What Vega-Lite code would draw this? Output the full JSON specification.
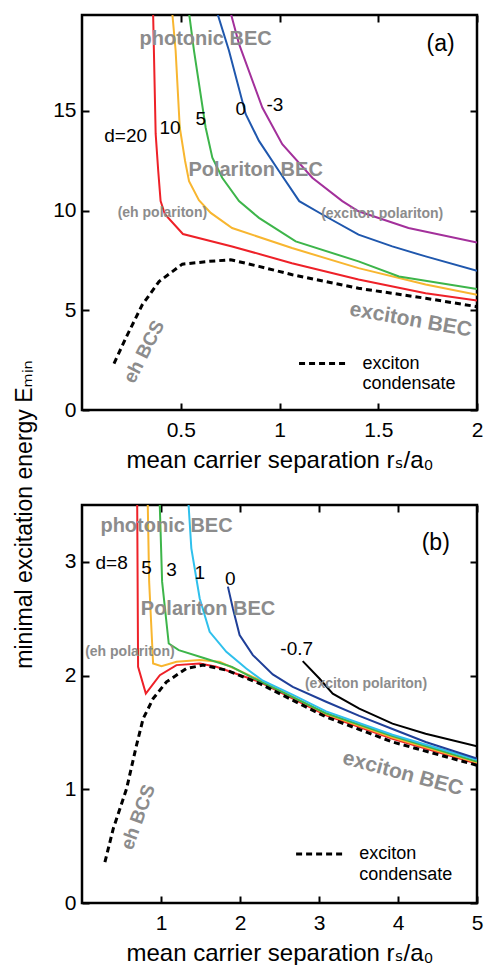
{
"$schema": "https://vega.github.io/schema/vega-lite/v6.json",
"padding": {"left": 11, "top": 12, "right": 0, "bottom": 0},
"background": "white",
"bounds": "flush",
"spacing": 95,
"resolve": {"scale": {"color": "independent"}},
"config": {
 "font": "Liberation Sans, DejaVu Sans, sans-serif",
 "view": {"stroke": "black", "strokeWidth": 2.5},
 "axis": {"domain": false, "grid": false, "ticks": true, "tickSize": -7, "tickWidth": 2, "tickColor": "black", "format": "~g",
  "labelFont": "Liberation Sans, DejaVu Sans, sans-serif", "labelFontSize": 21, "labelColor": "black", "labelPadding": 16, "labelFlush": false,
  "titleFont": "Liberation Sans, DejaVu Sans, sans-serif", "titleFontSize": 24, "titleFontWeight": "normal", "titleColor": "black", "titlePadding": 8}
},
"datasets": {
 "lines": [
  {"p":"a","s":"a20","i":0,"x":0.36,"y":19.9},{"p":"a","s":"a20","i":1,"x":0.373,"y":13.84},{"p":"a","s":"a20","i":2,"x":0.386,"y":11.98},{"p":"a","s":"a20","i":3,"x":0.398,"y":10.47},{"p":"a","s":"a20","i":4,"x":0.42,"y":9.81},{"p":"a","s":"a20","i":5,"x":0.511,"y":8.82},{"p":"a","s":"a20","i":6,"x":0.76,"y":8.2},{"p":"a","s":"a20","i":7,"x":1.063,"y":7.36},{"p":"a","s":"a20","i":8,"x":1.4,"y":6.54},{"p":"a","s":"a20","i":9,"x":1.74,"y":5.85},{"p":"a","s":"a20","i":10,"x":2.0,"y":5.49},
  {"p":"a","s":"a10","i":0,"x":0.457,"y":19.9},{"p":"a","s":"a10","i":1,"x":0.474,"y":18.02},{"p":"a","s":"a10","i":2,"x":0.495,"y":14.16},{"p":"a","s":"a10","i":3,"x":0.522,"y":12.48},{"p":"a","s":"a10","i":4,"x":0.542,"y":11.47},{"p":"a","s":"a10","i":5,"x":0.592,"y":10.52},{"p":"a","s":"a10","i":6,"x":0.652,"y":9.88},{"p":"a","s":"a10","i":7,"x":0.76,"y":9.12},{"p":"a","s":"a10","i":8,"x":1.063,"y":8.12},{"p":"a","s":"a10","i":9,"x":1.4,"y":7.11},{"p":"a","s":"a10","i":10,"x":1.74,"y":6.29},{"p":"a","s":"a10","i":11,"x":2.0,"y":5.77},
  {"p":"a","s":"a5","i":0,"x":0.542,"y":19.9},{"p":"a","s":"a5","i":1,"x":0.567,"y":18.02},{"p":"a","s":"a5","i":2,"x":0.626,"y":14.16},{"p":"a","s":"a5","i":3,"x":0.66,"y":12.65},{"p":"a","s":"a5","i":4,"x":0.71,"y":11.64},{"p":"a","s":"a5","i":5,"x":0.795,"y":10.47},{"p":"a","s":"a5","i":6,"x":0.896,"y":9.63},{"p":"a","s":"a5","i":7,"x":1.082,"y":8.45},{"p":"a","s":"a5","i":8,"x":1.4,"y":7.45},{"p":"a","s":"a5","i":9,"x":1.605,"y":6.69},{"p":"a","s":"a5","i":10,"x":2.0,"y":6.07},
  {"p":"a","s":"a0","i":0,"x":0.685,"y":19.9},{"p":"a","s":"a0","i":1,"x":0.744,"y":18.02},{"p":"a","s":"a0","i":2,"x":0.829,"y":14.83},{"p":"a","s":"a0","i":3,"x":0.896,"y":13.49},{"p":"a","s":"a0","i":4,"x":0.997,"y":11.98},{"p":"a","s":"a0","i":5,"x":1.1,"y":10.47},{"p":"a","s":"a0","i":6,"x":1.217,"y":9.8},{"p":"a","s":"a0","i":7,"x":1.4,"y":8.79},{"p":"a","s":"a0","i":8,"x":1.571,"y":8.2},{"p":"a","s":"a0","i":9,"x":1.74,"y":7.7},{"p":"a","s":"a0","i":10,"x":2.0,"y":6.98},
  {"p":"a","s":"am3","i":0,"x":0.753,"y":19.9},{"p":"a","s":"am3","i":1,"x":0.795,"y":18.35},{"p":"a","s":"am3","i":2,"x":0.913,"y":15.16},{"p":"a","s":"am3","i":3,"x":1.014,"y":13.32},{"p":"a","s":"am3","i":4,"x":1.166,"y":11.64},{"p":"a","s":"am3","i":5,"x":1.318,"y":10.47},{"p":"a","s":"am3","i":6,"x":1.4,"y":9.96},{"p":"a","s":"am3","i":7,"x":1.653,"y":9.12},{"p":"a","s":"am3","i":8,"x":2.0,"y":8.4},
  {"p":"b","s":"b8","i":0,"x":0.698,"y":3.6},{"p":"b","s":"b8","i":1,"x":0.71,"y":2.077},{"p":"b","s":"b8","i":2,"x":0.808,"y":1.841},{"p":"b","s":"b8","i":3,"x":0.985,"y":2.003},{"p":"b","s":"b8","i":4,"x":1.196,"y":2.092},{"p":"b","s":"b8","i":5,"x":1.49,"y":2.106},{"p":"b","s":"b8","i":6,"x":1.7,"y":2.077},{"p":"b","s":"b8","i":7,"x":2.247,"y":1.945},{"p":"b","s":"b8","i":8,"x":3.09,"y":1.651},{"p":"b","s":"b8","i":9,"x":3.93,"y":1.445},{"p":"b","s":"b8","i":10,"x":5.0,"y":1.225},
  {"p":"b","s":"b5","i":0,"x":0.83,"y":3.6},{"p":"b","s":"b5","i":1,"x":0.85,"y":2.826},{"p":"b","s":"b5","i":2,"x":0.9,"y":2.106},{"p":"b","s":"b5","i":3,"x":1.006,"y":2.083},{"p":"b","s":"b5","i":4,"x":1.196,"y":2.121},{"p":"b","s":"b5","i":5,"x":1.49,"y":2.136},{"p":"b","s":"b5","i":6,"x":1.742,"y":2.121},{"p":"b","s":"b5","i":7,"x":2.247,"y":1.962},{"p":"b","s":"b5","i":8,"x":3.09,"y":1.662},{"p":"b","s":"b5","i":9,"x":3.93,"y":1.455},{"p":"b","s":"b5","i":10,"x":5.0,"y":1.235},
  {"p":"b","s":"b3","i":0,"x":0.98,"y":3.6},{"p":"b","s":"b3","i":1,"x":1.014,"y":2.826},{"p":"b","s":"b3","i":2,"x":1.098,"y":2.282},{"p":"b","s":"b3","i":3,"x":1.225,"y":2.224},{"p":"b","s":"b3","i":4,"x":1.562,"y":2.15},{"p":"b","s":"b3","i":5,"x":1.898,"y":2.077},{"p":"b","s":"b3","i":6,"x":2.15,"y":1.985},{"p":"b","s":"b3","i":7,"x":3.08,"y":1.671},{"p":"b","s":"b3","i":8,"x":3.93,"y":1.469},{"p":"b","s":"b3","i":9,"x":5.0,"y":1.244},
  {"p":"b","s":"b1","i":0,"x":1.34,"y":3.6},{"p":"b","s":"b1","i":1,"x":1.384,"y":3.119},{"p":"b","s":"b1","i":2,"x":1.49,"y":2.678},{"p":"b","s":"b1","i":3,"x":1.616,"y":2.385},{"p":"b","s":"b1","i":4,"x":1.827,"y":2.209},{"p":"b","s":"b1","i":5,"x":2.079,"y":2.062},{"p":"b","s":"b1","i":6,"x":2.29,"y":1.955},{"p":"b","s":"b1","i":7,"x":2.67,"y":1.83},{"p":"b","s":"b1","i":8,"x":3.09,"y":1.685},{"p":"b","s":"b1","i":9,"x":3.93,"y":1.48},{"p":"b","s":"b1","i":10,"x":5.0,"y":1.26},
  {"p":"b","s":"b0","i":0,"x":1.847,"y":2.782},{"p":"b","s":"b0","i":1,"x":1.91,"y":2.59},{"p":"b","s":"b0","i":2,"x":1.995,"y":2.356},{"p":"b","s":"b0","i":3,"x":2.163,"y":2.18},{"p":"b","s":"b0","i":4,"x":2.415,"y":2.01},{"p":"b","s":"b0","i":5,"x":2.668,"y":1.9},{"p":"b","s":"b0","i":6,"x":3.09,"y":1.77},{"p":"b","s":"b0","i":7,"x":3.51,"y":1.645},{"p":"b","s":"b0","i":8,"x":3.93,"y":1.53},{"p":"b","s":"b0","i":9,"x":4.35,"y":1.416},{"p":"b","s":"b0","i":10,"x":5.0,"y":1.27},
  {"p":"b","s":"bm07","i":0,"x":2.794,"y":2.127},{"p":"b","s":"bm07","i":1,"x":3.005,"y":1.974},{"p":"b","s":"bm07","i":2,"x":3.174,"y":1.841},{"p":"b","s":"bm07","i":3,"x":3.51,"y":1.709},{"p":"b","s":"bm07","i":4,"x":3.93,"y":1.577},{"p":"b","s":"bm07","i":5,"x":4.35,"y":1.489},{"p":"b","s":"bm07","i":6,"x":5.0,"y":1.378}
 ],
 "dashed": [
  {"p":"a","i":0,"x":0.162,"y":2.33},{"p":"a","i":1,"x":0.221,"y":3.59},{"p":"a","i":2,"x":0.305,"y":5.27},{"p":"a","i":3,"x":0.39,"y":6.44},{"p":"a","i":4,"x":0.508,"y":7.31},{"p":"a","i":5,"x":0.643,"y":7.45},{"p":"a","i":6,"x":0.753,"y":7.53},{"p":"a","i":7,"x":0.896,"y":7.2},{"p":"a","i":8,"x":1.065,"y":6.78},{"p":"a","i":9,"x":1.234,"y":6.44},{"p":"a","i":10,"x":1.4,"y":6.1},{"p":"a","i":11,"x":1.571,"y":5.85},{"p":"a","i":12,"x":1.74,"y":5.6},{"p":"a","i":13,"x":2.0,"y":5.18},
  {"p":"b","i":0,"x":0.29,"y":0.359},{"p":"b","i":1,"x":0.395,"y":0.652},{"p":"b","i":2,"x":0.564,"y":1.004},{"p":"b","i":3,"x":0.69,"y":1.387},{"p":"b","i":4,"x":0.774,"y":1.621},{"p":"b","i":5,"x":0.9,"y":1.797},{"p":"b","i":6,"x":1.07,"y":1.945},{"p":"b","i":7,"x":1.322,"y":2.062},{"p":"b","i":8,"x":1.532,"y":2.092},{"p":"b","i":9,"x":1.827,"y":2.048},{"p":"b","i":10,"x":2.247,"y":1.93},{"p":"b","i":11,"x":3.09,"y":1.636},{"p":"b","i":12,"x":3.93,"y":1.416},{"p":"b","i":13,"x":5.0,"y":1.211}
 ],
 "legend": [
  {"p":"a","x":1.099,"x2":1.335,"y":2.33},
  {"p":"b","x":2.71,"x2":3.3,"y":0.432}
 ],
 "texts": [
  {"p":"a","k":"reg","t":"photonic BEC","x":0.626,"y":18.6},
  {"p":"a","k":"reg","t":"Polariton BEC","x":0.879,"y":12.01},
  {"p":"a","k":"sm","t":"(eh polariton)","x":0.407,"y":9.88},
  {"p":"a","k":"sm","t":"(exciton polariton)","x":1.52,"y":9.8},
  {"p":"a","k":"bec","t":"exciton BEC","x":1.664,"y":4.51},
  {"p":"a","k":"bcs","t":"eh BCS","x":0.314,"y":2.92},
  {"p":"a","k":"num","t":"d=20","x":0.221,"y":13.74},
  {"p":"a","k":"num","t":"10","x":0.446,"y":14.16},
  {"p":"a","k":"num","t":"5","x":0.601,"y":14.58},
  {"p":"a","k":"num","t":"0","x":0.804,"y":15.08},
  {"p":"a","k":"num","t":"-3","x":0.977,"y":15.3},
  {"p":"a","k":"pan","t":"(a)","x":1.816,"y":18.35},
  {"p":"a","k":"leg","t":"exciton","x":1.42,"y":2.33},
  {"p":"a","k":"leg","t":"condensate","x":1.42,"y":1.32},
  {"p":"b","k":"reg","t":"photonic BEC","x":1.07,"y":3.313},
  {"p":"b","k":"reg","t":"Polariton BEC","x":1.595,"y":2.582},
  {"p":"b","k":"sm","t":"(eh polariton)","x":0.606,"y":2.203},
  {"p":"b","k":"sm","t":"(exciton polariton)","x":3.595,"y":1.93},
  {"p":"b","k":"bec","t":"exciton BEC","x":4.06,"y":1.137},
  {"p":"b","k":"bcs","t":"eh BCS","x":0.71,"y":0.755},
  {"p":"b","k":"num","t":"d=8","x":0.375,"y":2.987},
  {"p":"b","k":"num","t":"5","x":0.817,"y":2.943},
  {"p":"b","k":"num","t":"3","x":1.133,"y":2.929},
  {"p":"b","k":"num","t":"1","x":1.49,"y":2.899},
  {"p":"b","k":"num","t":"0","x":1.877,"y":2.849},
  {"p":"b","k":"num","t":"-0.7","x":2.718,"y":2.238},
  {"p":"b","k":"pan","t":"(b)","x":4.478,"y":3.163},
  {"p":"b","k":"leg","t":"exciton","x":3.51,"y":0.432},
  {"p":"b","k":"leg","t":"condensate","x":3.51,"y":0.25}
 ]
},
"vconcat": [
 {
  "width": 395, "height": 395,
  "resolve": {"axis": {"x": "independent", "y": "independent"}},
  "layer": [
   {
    "data": {"name": "lines"},
    "transform": [{"filter": "datum.p == 'a'"}],
    "mark": {"type": "line", "strokeWidth": 2, "clip": true},
    "encoding": {
     "x": {"field": "x", "type": "quantitative", "scale": {"domain": [0, 2], "nice": false, "zero": false},
      "axis": {"orient": "bottom", "values": [0.5, 1, 1.5, 2], "title": "mean carrier separation rₛ/a₀"}},
     "y": {"field": "y", "type": "quantitative", "scale": {"domain": [0, 19.8], "nice": false},
      "axis": {"orient": "left", "values": [0, 5, 10, 15], "labelPadding": 13, "title": "minimal excitation energy Eₘᵢₙ", "titleFontSize": 23, "titleX": -51, "titleY": 499, "titleBaseline": "alphabetic", "titleAngle": 270, "titleAlign": "center"}},
     "color": {"field": "s", "type": "nominal", "legend": null,
      "scale": {"domain": ["a20", "a10", "a5", "a0", "am3"], "range": ["#ee2128", "#f8b630", "#3db54a", "#1f57ad", "#a3309b"]}},
     "order": {"field": "i", "type": "quantitative"}
    }
   },
   {
    "data": {"name": "dashed"},
    "transform": [{"filter": "datum.p == 'a'"}],
    "mark": {"type": "line", "strokeWidth": 3, "strokeDash": [6, 4], "color": "black", "clip": true},
    "encoding": {
     "x": {"field": "x", "type": "quantitative", "scale": {"domain": [0, 2], "nice": false, "zero": false},
      "axis": {"orient": "top", "values": [0.5, 1, 1.5, 2], "labels": false, "title": null}},
     "y": {"field": "y", "type": "quantitative", "scale": {"domain": [0, 19.8], "nice": false},
      "axis": {"orient": "right", "values": [0, 5, 10, 15], "labels": false, "title": null}},
     "order": {"field": "i", "type": "quantitative"}
    }
   },
   {
    "data": {"name": "legend"},
    "transform": [{"filter": "datum.p == 'a'"}],
    "mark": {"type": "rule", "strokeWidth": 3, "strokeDash": [6, 4], "color": "black"},
    "encoding": {
     "x": {"field": "x", "type": "quantitative", "scale": {"domain": [0, 2], "nice": false, "zero": false}, "axis": null},
     "x2": {"field": "x2"},
     "y": {"field": "y", "type": "quantitative", "scale": {"domain": [0, 19.8], "nice": false}, "axis": null}
    }
   },
   {
    "data": {"name": "texts"},
    "transform": [{"filter": "datum.p == 'a' && datum.k == 'reg'"}],
    "mark": {"type": "text", "fontSize": 20, "fontWeight": "bold", "color": "#8c8c8c", "align": "center", "baseline": "middle"},
    "encoding": {
     "x": {"field": "x", "type": "quantitative", "scale": {"domain": [0, 2], "nice": false, "zero": false}, "axis": null},
     "y": {"field": "y", "type": "quantitative", "scale": {"domain": [0, 19.8], "nice": false}, "axis": null},
     "text": {"field": "t"}
    }
   },
   {
    "data": {"name": "texts"},
    "transform": [{"filter": "datum.p == 'a' && datum.k == 'sm'"}],
    "mark": {"type": "text", "fontSize": 14, "fontWeight": "bold", "color": "#8c8c8c", "align": "center", "baseline": "middle"},
    "encoding": {
     "x": {"field": "x", "type": "quantitative", "scale": {"domain": [0, 2], "nice": false, "zero": false}, "axis": null},
     "y": {"field": "y", "type": "quantitative", "scale": {"domain": [0, 19.8], "nice": false}, "axis": null},
     "text": {"field": "t"}
    }
   },
   {
    "data": {"name": "texts"},
    "transform": [{"filter": "datum.p == 'a' && datum.k == 'bec'"}],
    "mark": {"type": "text", "fontSize": 21, "fontWeight": "bold", "color": "#8c8c8c", "align": "center", "baseline": "middle", "angle": 10},
    "encoding": {
     "x": {"field": "x", "type": "quantitative", "scale": {"domain": [0, 2], "nice": false, "zero": false}, "axis": null},
     "y": {"field": "y", "type": "quantitative", "scale": {"domain": [0, 19.8], "nice": false}, "axis": null},
     "text": {"field": "t"}
    }
   },
   {
    "data": {"name": "texts"},
    "transform": [{"filter": "datum.p == 'a' && datum.k == 'bcs'"}],
    "mark": {"type": "text", "fontSize": 19, "fontWeight": "bold", "color": "#8c8c8c", "align": "center", "baseline": "middle", "angle": -63},
    "encoding": {
     "x": {"field": "x", "type": "quantitative", "scale": {"domain": [0, 2], "nice": false, "zero": false}, "axis": null},
     "y": {"field": "y", "type": "quantitative", "scale": {"domain": [0, 19.8], "nice": false}, "axis": null},
     "text": {"field": "t"}
    }
   },
   {
    "data": {"name": "texts"},
    "transform": [{"filter": "datum.p == 'a' && datum.k == 'num'"}],
    "mark": {"type": "text", "fontSize": 19, "color": "black", "align": "center", "baseline": "middle"},
    "encoding": {
     "x": {"field": "x", "type": "quantitative", "scale": {"domain": [0, 2], "nice": false, "zero": false}, "axis": null},
     "y": {"field": "y", "type": "quantitative", "scale": {"domain": [0, 19.8], "nice": false}, "axis": null},
     "text": {"field": "t"}
    }
   },
   {
    "data": {"name": "texts"},
    "transform": [{"filter": "datum.p == 'a' && datum.k == 'pan'"}],
    "mark": {"type": "text", "fontSize": 23, "color": "black", "align": "center", "baseline": "middle"},
    "encoding": {
     "x": {"field": "x", "type": "quantitative", "scale": {"domain": [0, 2], "nice": false, "zero": false}, "axis": null},
     "y": {"field": "y", "type": "quantitative", "scale": {"domain": [0, 19.8], "nice": false}, "axis": null},
     "text": {"field": "t"}
    }
   },
   {
    "data": {"name": "texts"},
    "transform": [{"filter": "datum.p == 'a' && datum.k == 'leg'"}],
    "mark": {"type": "text", "fontSize": 18, "color": "black", "align": "left", "baseline": "middle"},
    "encoding": {
     "x": {"field": "x", "type": "quantitative", "scale": {"domain": [0, 2], "nice": false, "zero": false}, "axis": null},
     "y": {"field": "y", "type": "quantitative", "scale": {"domain": [0, 19.8], "nice": false}, "axis": null},
     "text": {"field": "t"}
    }
   }
  ]
 },
 {
  "width": 395, "height": 398,
  "resolve": {"axis": {"x": "independent", "y": "independent"}},
  "layer": [
   {
    "data": {"name": "lines"},
    "transform": [{"filter": "datum.p == 'b'"}],
    "mark": {"type": "line", "strokeWidth": 2, "clip": true},
    "encoding": {
     "x": {"field": "x", "type": "quantitative", "scale": {"domain": [0, 5], "nice": false, "zero": false},
      "axis": {"orient": "bottom", "values": [1, 2, 3, 4, 5], "title": "mean carrier separation rₛ/a₀"}},
     "y": {"field": "y", "type": "quantitative", "scale": {"domain": [0, 3.5], "nice": false},
      "axis": {"orient": "left", "values": [0, 1, 2, 3], "labelPadding": 13, "title": null}},
     "color": {"field": "s", "type": "nominal", "legend": null,
      "scale": {"domain": ["b8", "b5", "b3", "b1", "b0", "bm07"], "range": ["#ee2128", "#f8b630", "#3db54a", "#2fc0ec", "#1f3f98", "#000000"]}},
     "order": {"field": "i", "type": "quantitative"}
    }
   },
   {
    "data": {"name": "dashed"},
    "transform": [{"filter": "datum.p == 'b'"}],
    "mark": {"type": "line", "strokeWidth": 3, "strokeDash": [6, 4], "color": "black", "clip": true},
    "encoding": {
     "x": {"field": "x", "type": "quantitative", "scale": {"domain": [0, 5], "nice": false, "zero": false},
      "axis": {"orient": "top", "values": [1, 2, 3, 4, 5], "labels": false, "title": null}},
     "y": {"field": "y", "type": "quantitative", "scale": {"domain": [0, 3.5], "nice": false},
      "axis": {"orient": "right", "values": [0, 1, 2, 3], "labels": false, "title": null}},
     "order": {"field": "i", "type": "quantitative"}
    }
   },
   {
    "data": {"name": "legend"},
    "transform": [{"filter": "datum.p == 'b'"}],
    "mark": {"type": "rule", "strokeWidth": 3, "strokeDash": [6, 4], "color": "black"},
    "encoding": {
     "x": {"field": "x", "type": "quantitative", "scale": {"domain": [0, 5], "nice": false, "zero": false}, "axis": null},
     "x2": {"field": "x2"},
     "y": {"field": "y", "type": "quantitative", "scale": {"domain": [0, 3.5], "nice": false}, "axis": null}
    }
   },
   {
    "data": {"name": "texts"},
    "transform": [{"filter": "datum.p == 'b' && datum.k == 'reg'"}],
    "mark": {"type": "text", "fontSize": 20, "fontWeight": "bold", "color": "#8c8c8c", "align": "center", "baseline": "middle"},
    "encoding": {
     "x": {"field": "x", "type": "quantitative", "scale": {"domain": [0, 5], "nice": false, "zero": false}, "axis": null},
     "y": {"field": "y", "type": "quantitative", "scale": {"domain": [0, 3.5], "nice": false}, "axis": null},
     "text": {"field": "t"}
    }
   },
   {
    "data": {"name": "texts"},
    "transform": [{"filter": "datum.p == 'b' && datum.k == 'sm'"}],
    "mark": {"type": "text", "fontSize": 14, "fontWeight": "bold", "color": "#8c8c8c", "align": "center", "baseline": "middle"},
    "encoding": {
     "x": {"field": "x", "type": "quantitative", "scale": {"domain": [0, 5], "nice": false, "zero": false}, "axis": null},
     "y": {"field": "y", "type": "quantitative", "scale": {"domain": [0, 3.5], "nice": false}, "axis": null},
     "text": {"field": "t"}
    }
   },
   {
    "data": {"name": "texts"},
    "transform": [{"filter": "datum.p == 'b' && datum.k == 'bec'"}],
    "mark": {"type": "text", "fontSize": 21, "fontWeight": "bold", "color": "#8c8c8c", "align": "center", "baseline": "middle", "angle": 15},
    "encoding": {
     "x": {"field": "x", "type": "quantitative", "scale": {"domain": [0, 5], "nice": false, "zero": false}, "axis": null},
     "y": {"field": "y", "type": "quantitative", "scale": {"domain": [0, 3.5], "nice": false}, "axis": null},
     "text": {"field": "t"}
    }
   },
   {
    "data": {"name": "texts"},
    "transform": [{"filter": "datum.p == 'b' && datum.k == 'bcs'"}],
    "mark": {"type": "text", "fontSize": 19, "fontWeight": "bold", "color": "#8c8c8c", "align": "center", "baseline": "middle", "angle": -70},
    "encoding": {
     "x": {"field": "x", "type": "quantitative", "scale": {"domain": [0, 5], "nice": false, "zero": false}, "axis": null},
     "y": {"field": "y", "type": "quantitative", "scale": {"domain": [0, 3.5], "nice": false}, "axis": null},
     "text": {"field": "t"}
    }
   },
   {
    "data": {"name": "texts"},
    "transform": [{"filter": "datum.p == 'b' && datum.k == 'num'"}],
    "mark": {"type": "text", "fontSize": 19, "color": "black", "align": "center", "baseline": "middle"},
    "encoding": {
     "x": {"field": "x", "type": "quantitative", "scale": {"domain": [0, 5], "nice": false, "zero": false}, "axis": null},
     "y": {"field": "y", "type": "quantitative", "scale": {"domain": [0, 3.5], "nice": false}, "axis": null},
     "text": {"field": "t"}
    }
   },
   {
    "data": {"name": "texts"},
    "transform": [{"filter": "datum.p == 'b' && datum.k == 'pan'"}],
    "mark": {"type": "text", "fontSize": 23, "color": "black", "align": "center", "baseline": "middle"},
    "encoding": {
     "x": {"field": "x", "type": "quantitative", "scale": {"domain": [0, 5], "nice": false, "zero": false}, "axis": null},
     "y": {"field": "y", "type": "quantitative", "scale": {"domain": [0, 3.5], "nice": false}, "axis": null},
     "text": {"field": "t"}
    }
   },
   {
    "data": {"name": "texts"},
    "transform": [{"filter": "datum.p == 'b' && datum.k == 'leg'"}],
    "mark": {"type": "text", "fontSize": 18, "color": "black", "align": "left", "baseline": "middle"},
    "encoding": {
     "x": {"field": "x", "type": "quantitative", "scale": {"domain": [0, 5], "nice": false, "zero": false}, "axis": null},
     "y": {"field": "y", "type": "quantitative", "scale": {"domain": [0, 3.5], "nice": false}, "axis": null},
     "text": {"field": "t"}
    }
   }
  ]
 }
]
}
